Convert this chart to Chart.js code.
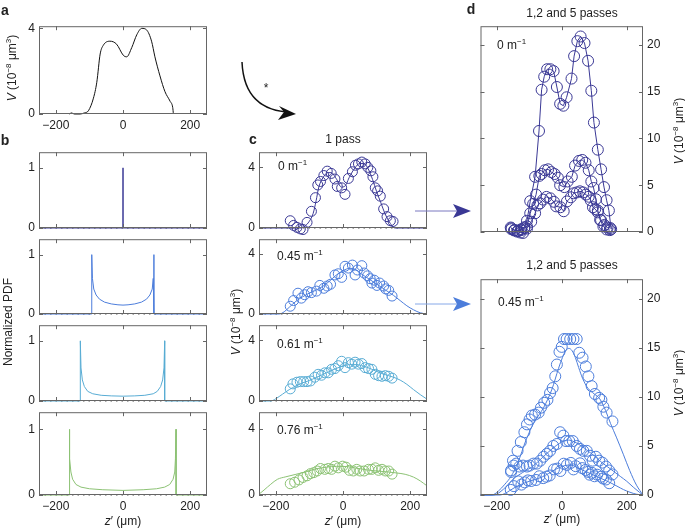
<!DOCTYPE html>
<html>
<head>
<meta charset="utf-8">
<script src="https://cdn.jsdelivr.net/npm/chart.js@4.4.1/dist/chart.umd.min.js"></script>
<style>
  body { margin: 0; background: #fff; }
  #fig { position: relative; width: 685px; height: 528px; overflow: hidden;
         font-family: "Liberation Sans", Arial, sans-serif; color: #222; }
  #fig canvas { position: absolute; }
  .t { position: absolute; font-size: 12px; white-space: nowrap; line-height: 1;
       transform: translate(-50%, -50%); z-index: 5; }
  .t.l { transform: translate(0, -50%); }
  .t.rot { transform: translate(-50%, -50%) rotate(-90deg); }
  .t.lab { font-weight: bold; font-size: 14px; }
  .t sup { font-size: 8px; vertical-align: 0; position: relative; top: -5px; }
  svg { position: absolute; left: 0; top: 0; z-index: 4; }
</style>
</head>
<body>
<div id="fig"></div>
<script>
// tick values
const xTicks = [-200, 0, 200];
const aTicks = [0, 4];
const pdfTicks = [0, 1];
const vTicks = [0, 4];
const dTicks = [0, 5, 10, 15, 20];
const zeroLine = [[-250, 0], [250, 0]];

// a: measured profile, V (1e-8 um^3) vs z' (um)
const aCurve = [[-160,0],[-153,0.05],[-145,0],[-128,0],[-115,0.05],[-103,0.15],[-88,0.74],[-78,1.48],
  [-68,2.8],[-59,3.2],[-39,3.4],[-19,3.26],[1,2.74],[11,2.67],[26,3.1],[41,3.7],[56,4.0],[70,3.93],
  [85,3.4],[95,2.67],[110,1.78],[125,1.04],[140,0.6],[148,0.3],[150,0]];

// b: normalized PDFs
const bPdf0 = [[-250,0],[0,0],[0,1],[0,0],[250,0]];
const bPdf45 = [[-250,0],[-93,0],[-93,1],[-91,0.6],[-87,0.42],[-80,0.32],[-70,0.25],[-55,0.2],[-35,0.17],
  [-15,0.155],[0,0.15],[15,0.155],[35,0.17],[55,0.2],[70,0.25],[80,0.32],[87,0.42],[90,0.6],[92,1],[92,0],[250,0]];
const bPdf61 = [[-250,0],[-127,0],[-127,1],[-125,0.55],[-121,0.35],[-115,0.24],[-105,0.16],[-90,0.12],
  [-65,0.095],[-35,0.085],[0,0.08],[35,0.085],[65,0.095],[90,0.12],[102,0.16],[112,0.24],[118,0.35],
  [122,0.55],[124,1],[124,0],[250,0]];
const bPdf76 = [[-250,0],[-160,0],[-160,1],[-158,0.55],[-155,0.35],[-150,0.24],[-140,0.16],[-125,0.12],
  [-100,0.095],[-60,0.08],[0,0.07],[60,0.08],[100,0.095],[124,0.12],[139,0.16],[149,0.24],[154,0.35],
  [156,0.55],[158,1],[158,0],[250,0]];

// c: 1 pass, measured (circles) and model (line)
const c0Circles = [[-157,0.48],[-147,0.17],[-137,0.04],[-127,-0.06],[-119,-0.1],[-107,0.37],[-94,1.1],
  [-82,2.0],[-75,2.84],[-67,3.07],[-57,3.46],[-47,3.75],[-35,3.6],[-24,3.23],[-17,2.74],[-4,2.65],[6,2.22],
  [16,3.27],[28,3.71],[37,4.14],[46,4.23],[56,4.35],[66,4.23],[74,4.0],[83,3.77],[89,3.38],[96,2.65],
  [103,2.45],[111,2.1],[121,1.26],[131,0.75],[141,0.48],[149,0.43]];
const c0Curve = [[-250,0],[-130,0],[-115,0.1],[-100,0.45],[-89,0.95],[-80,1.8],[-72,2.7],[-60,3.3],
  [-45,3.65],[-35,3.65],[-20,3.25],[-5,2.7],[5,2.75],[20,3.4],[35,3.95],[50,4.25],[62,4.25],[75,3.9],
  [88,3.2],[100,2.4],[112,1.7],[125,0.95],[138,0.4],[150,0.05],[155,0],[250,0]];
const c45Circles = [[-157,0.52],[-147,0.9],[-134,1.39],[-124,1.06],[-114,1.29],[-104,1.49],[-94,1.43],
  [-79,1.53],[-69,1.91],[-57,1.72],[-47,1.87],[-37,1.99],[-24,2.61],[-14,2.69],[-4,2.45],[6,3.19],[16,3.07],
  [28,3.27],[36,2.61],[43,2.94],[56,3.23],[63,2.74],[73,2.55],[81,2.36],[86,2.07],[93,2.26],[101,1.91],
  [109,2.07],[121,1.87],[127,1.68],[136,1.58],[146,1.2]];
const c45Curve = [[-250,0],[-190,0],[-175,0.15],[-160,0.45],[-140,0.85],[-120,1.15],[-100,1.4],[-80,1.6],
  [-60,1.85],[-40,2.2],[-20,2.6],[0,2.9],[20,3.05],[35,3.0],[50,2.75],[70,2.45],[90,2.15],[110,1.85],
  [130,1.55],[150,1.25],[170,0.9],[190,0.55],[210,0.28],[230,0.08],[250,0]];
const c61Circles = [[-157,0.8],[-149,1.13],[-137,1.24],[-127,1.28],[-117,1.28],[-107,1.28],[-97,1.32],
  [-84,1.57],[-74,1.76],[-64,1.7],[-54,1.86],[-44,1.86],[-34,2.09],[-24,2.14],[-14,2.33],[-4,2.62],[6,2.2],
  [16,2.53],[26,2.43],[36,2.56],[46,2.43],[56,2.47],[66,2.2],[76,2.14],[86,2.09],[96,1.76],[106,1.67],
  [116,1.63],[126,1.67],[136,1.63],[146,1.51]];
const c61Curve = [[-250,0],[-215,0],[-200,0.15],[-180,0.45],[-160,0.75],[-140,1.0],[-120,1.2],[-100,1.35],
  [-80,1.55],[-60,1.75],[-40,1.95],[-20,2.15],[0,2.3],[20,2.4],[40,2.4],[60,2.3],[80,2.15],[100,1.95],
  [120,1.78],[150,1.57],[170,1.38],[190,1.1],[210,0.75],[230,0.42],[250,0.12]];
const c76Circles = [[-157,0.68],[-144,0.77],[-131,0.91],[-119,1.06],[-107,1.16],[-97,1.29],[-87,1.35],
  [-77,1.45],[-67,1.6],[-54,1.55],[-44,1.6],[-34,1.55],[-24,1.74],[-14,1.64],[-1,1.74],[9,1.68],[19,1.49],
  [31,1.45],[41,1.55],[51,1.45],[63,1.45],[76,1.55],[86,1.55],[96,1.64],[106,1.49],[116,1.55],[126,1.45],
  [136,1.45],[146,1.26]];
const c76Curve = [[-250,0.05],[-235,0.3],[-215,0.65],[-195,0.95],[-170,1.1],[-140,1.25],[-110,1.4],
  [-80,1.58],[-50,1.68],[-20,1.73],[10,1.72],[40,1.62],[70,1.52],[100,1.45],[130,1.4],[160,1.33],
  [185,1.25],[210,1.08],[230,0.85],[250,0.55]];

// d: 2 and 5 passes (1 pass = panel c data)
const d0Pass2 = [[-155,0.3],[-145,0.2],[-135,0.1],[-125,0.2],[-115,0.4],[-107,0.6],[-97,2.0],[-88,3.0],
  [-79,4.0],[-69,6.0],[-62,6.2],[-52,6.6],[-42,6.7],[-32,6.4],[-22,6.2],[-12,5.8],[-5,5.0],[8,4.8],[18,5.4],
  [31,5.9],[41,7.1],[53,7.6],[63,7.7],[73,7.4],[83,6.6],[91,5.4],[98,4.7],[105,3.5],[111,2.3],[118,1.3],
  [128,0.6],[138,0.27],[148,0.2]];
const d0Pass5 = [[-155,0.4],[-145,0.2],[-135,0.15],[-125,0.3],[-115,0.5],[-107,1.2],[-97,3.3],[-82,5.9],
  [-70,10.8],[-62,15.2],[-54,16.6],[-45,17.4],[-35,17.4],[-25,17.2],[-15,15.5],[-5,13.7],[5,13.5],[15,14.4],
  [30,16.4],[38,18.8],[48,20.4],[58,20.9],[70,20.2],[81,18.3],[91,15.1],[99,11.7],[111,8.8],[121,6.7],
  [130,4.8],[138,3.4],[145,2.3],[152,0.3]];
const d45Pass2 = [[-156,2.35],[-148,3.0],[-140,3.2],[-130,2.9],[-119,3.0],[-107,2.9],[-99,3.0],[-87,3.2],
  [-77,3.2],[-66,3.5],[-56,3.9],[-46,4.2],[-36,4.5],[-26,5.0],[-15,5.2],[-5,6.4],[5,6.05],[13,5.5],[23,5.5],
  [34,5.5],[46,5.0],[56,4.7],[66,4.5],[77,4.5],[87,4.0],[95,3.5],[105,3.9],[115,3.5],[125,3.3],[136,2.9],
  [146,2.5],[156,2.1]];
const d45Curve2 = [[-250,0],[-210,0],[-190,0.3],[-170,0.9],[-150,1.6],[-120,2.3],[-90,2.9],[-60,3.8],
  [-30,4.7],[0,5.4],[20,5.6],[40,5.4],[60,5.0],[80,4.5],[100,4.0],[120,3.4],[140,2.9],[160,2.4],[180,1.9],
  [200,1.4],[220,0.8],[240,0.25],[250,0]];
const d45Pass5 = [[-156,2.5],[-150,3.5],[-136,4.5],[-126,5.4],[-115,6.4],[-107,7.2],[-99,7.7],[-92,8.1],
  [-82,8.2],[-71,8.4],[-64,8.9],[-54,9.4],[-44,9.7],[-36,10.4],[-28,10.9],[-20,12.1],[-15,13.3],[-7,14.6],
  [0,15.1],[7,15.9],[15,15.9],[26,15.9],[36,15.9],[46,15.9],[54,14.5],[64,14.0],[74,13.1],[82,12.1],
  [92,11.1],[102,10.3],[115,9.9],[122,9.7],[128,9.0],[138,8.4],[156,7.5]];
const d45Curve5 = [[-250,0],[-215,0],[-195,0.4],[-175,1.1],[-156,1.9],[-135,3.3],[-110,5.6],[-85,7.4],
  [-56,8.9],[-30,10.8],[-10,12.9],[2,14.0],[12,14.7],[22,14.95],[32,14.7],[42,14.0],[52,13.0],[64,11.9],
  [80,10.9],[100,10.3],[117,9.8],[135,8.6],[150,7.3],[168,5.9],[190,4.1],[209,2.5],[230,1.0],[250,0]];

const NAVY = '#3a3895', BLUE = '#4c7ddb', CYAN = '#58acd4', GREEN = '#8cc274';

const fig = document.getElementById('fig');
Chart.defaults.font.family = '"Liberation Sans", Arial, sans-serif';
Chart.defaults.font.size = 12;
Chart.defaults.color = '#222';

const minus = v => String(v).replace('-', '\u2212');
const pts = arr => arr.map(p => ({x: p[0], y: p[1]}));

function line(arr, color, smooth) {
  return {data: pts(arr), showLine: true, pointRadius: 0, borderColor: color, borderWidth: 1,
          cubicInterpolationMode: smooth ? 'monotone' : 'default', tension: 0, clip: false, order: 1};
}
function circles(arr, color, r, joined) {
  return {data: pts(arr), showLine: !!joined, pointRadius: r || 5, pointBorderWidth: 1,
          backgroundColor: 'rgba(0,0,0,0)', borderColor: color, pointBorderColor: color,
          borderWidth: 1, tension: 0, clip: false, order: 0};
}
function dotted() {
  return {data: pts(zeroLine), showLine: true, pointRadius: 0, borderColor: '#555', borderWidth: 1,
          borderDash: [1.5, 4], clip: false, order: 5};
}

// frame with inward ticks on all four sides, like the original
const boxPlugin = {
  id: 'box',
  afterDraw(chart, args, o) {
    const {ctx, chartArea: a, scales} = chart;
    ctx.save();
    ctx.strokeStyle = '#666';
    ctx.lineWidth = 1;
    ctx.strokeRect(a.left + 0.5, a.top + 0.5, a.right - a.left - 1, a.bottom - a.top - 1);
    ctx.beginPath();
    o.xt.forEach(v => {
      const p = Math.round(scales.x.getPixelForValue(v)) + 0.5;
      ctx.moveTo(p, a.top); ctx.lineTo(p, a.top + 4);
      ctx.moveTo(p, a.bottom); ctx.lineTo(p, a.bottom - 4);
    });
    o.yt.forEach(v => {
      const p = Math.round(scales.y.getPixelForValue(v)) + 0.5;
      ctx.moveTo(a.left, p); ctx.lineTo(a.left + 4, p);
      ctx.moveTo(a.right, p); ctx.lineTo(a.right - 4, p);
    });
    ctx.stroke();
    ctx.restore();
  }
};

// rect = [left, right, top, bottom] of the plot area in page pixels
function plot(rect, datasets, o) {
  const yR = !!o.yRight;
  const padL = yR ? 6 : 24, padR = yR ? 30 : 6, padT = 8, padB = o.xLabels ? 22 : 8;
  const w = rect[1] - rect[0] + padL + padR, h = rect[3] - rect[2] + padT + padB;
  const cv = document.createElement('canvas');
  cv.width = w; cv.height = h;
  cv.style.left = (rect[0] - padL) + 'px';
  cv.style.top = (rect[2] - padT) + 'px';
  cv.style.width = w + 'px'; cv.style.height = h + 'px';
  fig.appendChild(cv);
  new Chart(cv, {
    type: 'scatter',
    data: {datasets},
    plugins: [boxPlugin],
    options: {
      responsive: false, animation: false, events: [],
      layout: {padding: {left: yR ? padL : 0, right: yR ? 0 : padR, top: padT, bottom: o.xLabels ? 0 : padB}},
      plugins: {legend: {display: false}, tooltip: {enabled: false}, box: {xt: xTicks, yt: o.yTicks}},
      scales: {
        x: {type: 'linear', min: -250, max: 250, display: !!o.xLabels,
            grid: {display: false, drawTicks: false}, border: {display: false},
            afterBuildTicks: s => { s.ticks = xTicks.map(v => ({value: v})); },
            afterFit: s => { s.height = padB; },
            ticks: {padding: 4, maxRotation: 0, autoSkip: false, callback: v => minus(v)}},
        y: {type: 'linear', position: yR ? 'right' : 'left', min: 0, max: o.yMax,
            grid: {display: false, drawTicks: false}, border: {display: false},
            afterBuildTicks: s => { s.ticks = o.yTicks.map(v => ({value: v})); },
            afterFit: s => { s.width = yR ? padR : padL; },
            ticks: {padding: 4, autoSkip: false, callback: v => minus(v)}}
      }
    }
  });
}

const rows = [[149, 236], [236, 322], [322, 409], [409, 495]];

// a
plot([39, 207, 23, 114], [line(aCurve, '#111', true)], {yMax: 4.1, yTicks: aTicks, xLabels: true});

// b
const bSets = [[bPdf0, NAVY], [bPdf45, BLUE], [bPdf61, CYAN], [bPdf76, GREEN]];
bSets.forEach((s, i) => {
  plot([39, 207, rows[i][0], rows[i][1]], [dotted(), line(s[0], s[1], false)],
       {yMax: 1.26, yTicks: pdfTicks, xLabels: i === 3});
});

// c
const cSets = [[c0Circles, c0Curve, NAVY], [c45Circles, c45Curve, BLUE],
               [c61Circles, c61Curve, CYAN], [c76Circles, c76Curve, GREEN]];
cSets.forEach((s, i) => {
  plot([259, 427, rows[i][0], rows[i][1]],
       [dotted(), line(s[1], s[2], true), circles(s[0], s[2], 5)],
       {yMax: 5.0, yTicks: vTicks, xLabels: i === 3});
});

// d
plot([480, 643, 23, 240],
     [circles(c0Circles, NAVY, 5.5, true), circles(d0Pass2, NAVY, 5.5, true), circles(d0Pass5, NAVY, 5.5, true)],
     {yMax: 22, yTicks: dTicks, yRight: true});
plot([480, 643, 276, 495],
     [line(c45Curve, BLUE, true), line(d45Curve2, BLUE, true), line(d45Curve5, BLUE, true),
      circles(c45Circles, BLUE, 5.5), circles(d45Pass2, BLUE, 5.5), circles(d45Pass5, BLUE, 5.5)],
     {yMax: 22, yTicks: dTicks, yRight: true, xLabels: true});

// text
function txt(html, x, y, cls) {
  const d = document.createElement('div');
  d.className = 't' + (cls ? ' ' + cls : '');
  d.innerHTML = html;
  d.style.left = x + 'px';
  d.style.top = y + 'px';
  fig.appendChild(d);
}
const vLabel = '<i>V</i> (10<sup>\u22128</sup> \u03bcm<sup>3</sup>)';
const zLabel = '<i>z</i>\u2032 (\u03bcm)';
txt('a', 5, 10, 'lab'); txt('b', 5, 140, 'lab'); txt('c', 253, 139, 'lab'); txt('d', 471, 9, 'lab');
txt('1 pass', 343, 139);
txt('1,2 and 5 passes', 572, 13);
txt('1,2 and 5 passes', 572, 265);
txt(vLabel, 12, 68, 'rot');
txt('Normalized PDF', 8, 322, 'rot');
txt(vLabel, 236, 322, 'rot');
txt(vLabel, 679, 131, 'rot');
txt(vLabel, 679, 383, 'rot');
txt(zLabel, 123, 521); txt(zLabel, 343, 521); txt(zLabel, 562, 519);
txt('0 m<sup>\u22121</sup>', 278, 166, 'l');
txt('0.45 m<sup>\u22121</sup>', 277, 256, 'l');
txt('0.61 m<sup>\u22121</sup>', 277, 344, 'l');
txt('0.76 m<sup>\u22121</sup>', 277, 430, 'l');
txt('0 m<sup>\u22121</sup>', 497, 45, 'l');
txt('0.45 m<sup>\u22121</sup>', 498, 302, 'l');
txt('*', 266, 88);

// arrows
const svgNS = 'http://www.w3.org/2000/svg';
const svg = document.createElementNS(svgNS, 'svg');
svg.setAttribute('width', 685); svg.setAttribute('height', 528);
svg.innerHTML =
  '<path d="M242,62 Q244,108 286,112" fill="none" stroke="#111" stroke-width="1.5"/>' +
  '<polygon points="296,114 279,106 284,112 278,120" fill="#111"/>' +
  '<line x1="415" y1="211" x2="460" y2="211" stroke="#7a78c0" stroke-width="1"/>' +
  '<polygon points="471,211 453,204 457,211 453,218" fill="' + NAVY + '"/>' +
  '<line x1="415" y1="304" x2="460" y2="304" stroke="#86a8e8" stroke-width="1"/>' +
  '<polygon points="471,304 453,297 457,304 453,311" fill="' + BLUE + '"/>';
fig.appendChild(svg);
</script>
</body>
</html>
